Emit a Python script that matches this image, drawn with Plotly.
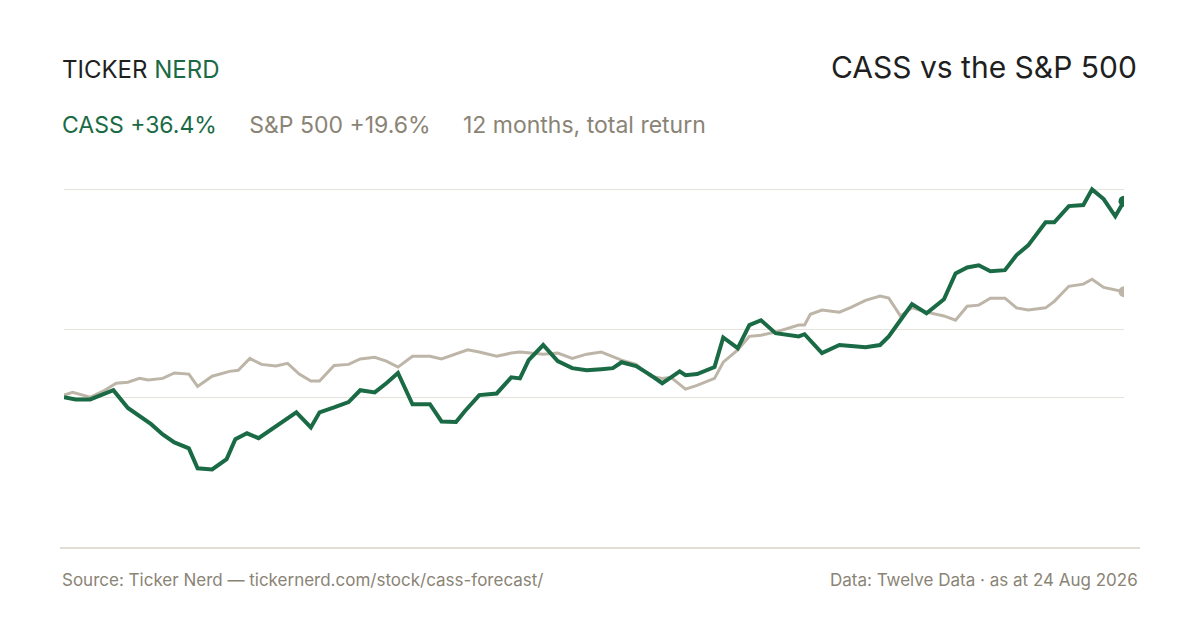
import plotly.graph_objects as go

# days since start, % total return
cass_days = [0, 4, 9, 12, 17, 22, 26, 30, 34, 38, 43, 46, 51, 56, 59, 63, 67, 71, 75, 80,
             85, 88, 93, 98, 102, 107, 111, 115, 120, 126, 130, 135, 138, 143, 149, 154, 157, 160, 165, 170,
             175, 180, 185, 189, 192, 197, 202, 206, 209, 212, 214, 218, 224, 227, 232, 236, 240, 245, 253, 255,
             261, 267, 271, 276, 281, 284, 288, 292, 297, 303, 307, 311, 315, 319, 324, 328, 332, 338, 341, 346,
             351, 354, 358, 362, 365]
cass_ret = [0, -0.4, -0.4, 0.2, 1.3, -2.0, -3.5, -5.0, -6.9, -8.4, -9.5, -13.2, -13.4, -11.5, -7.8, -6.7, -7.6, -6.1, -4.6, -2.8,
            -5.6, -2.8, -1.9, -0.9, 1.3, 0.9, 2.6, 4.5, -1.3, -1.3, -4.5, -4.6, -2.6, 0.4, 0.7, 3.7, 3.5, 6.9, 9.7, 6.7,
            5.4, 5.0, 5.2, 5.4, 6.5, 5.8, 4.1, 2.6, 3.7, 4.8, 4.1, 4.3, 5.6, 11.1, 9.1, 13.4, 14.3, 11.9, 11.3, 11.7,
            8.2, 9.7, 9.5, 9.3, 9.7, 11.3, 14.3, 17.3, 15.6, 18.2, 23.0, 24.1, 24.5, 23.4, 23.6, 26.4, 28.2, 32.5, 32.5, 35.5,
            35.7, 38.6, 36.8, 33.6, 36.4]

spx_days = [0, 3, 9, 14, 18, 22, 26, 29, 34, 38, 43, 46, 51, 57, 60, 64, 68, 73, 77, 81,
            85, 88, 93, 98, 102, 107, 111, 115, 120, 126, 130, 135, 139, 143, 149, 154, 157, 165, 170, 175,
            180, 185, 189, 192, 197, 202, 206, 209, 214, 218, 224, 227, 232, 236, 240, 245, 253, 255, 257, 261,
            267, 271, 276, 281, 284, 288, 292, 297, 303, 307, 311, 315, 319, 324, 328, 332, 338, 341, 346, 351,
            354, 358, 365]
spx_ret = [0.4, 0.9, 0, 1.3, 2.6, 2.8, 3.5, 3.2, 3.5, 4.5, 4.3, 2.0, 3.9, 4.8, 5.0, 7.2, 6.1, 5.8, 6.3, 4.3,
           3.0, 3.0, 5.9, 6.1, 7.1, 7.4, 6.7, 5.6, 7.6, 7.6, 7.1, 8.0, 8.8, 8.4, 7.6, 8.2, 8.4, 8.0, 8.2, 7.2,
           8.0, 8.4, 7.6, 6.9, 6.1, 3.9, 3.5, 3.7, 1.5, 2.2, 3.5, 6.5, 8.8, 11.3, 11.5, 12.1, 13.4, 13.4, 15.4, 16.2,
           15.8, 16.7, 18.0, 18.8, 18.4, 15.1, 16.6, 15.8, 15.1, 14.3, 16.9, 17.1, 18.4, 18.4, 16.6, 16.2, 16.6, 17.8, 20.6, 21.0,
           21.9, 20.4, 19.6]

grid_vals = [0, 12.6, 38.6]

GREEN = "#1a6b45"
GREY_LINE = "#bdb5a8"
GREY_TEXT = "#8a8476"

# plot area in figure pixels (page has an 8px body margin)
PL, PR, PT, PB = 56, 1116, 162, 540

fig = go.Figure()
fig.add_trace(go.Scatter(x=spx_days, y=spx_ret, mode="lines", line=dict(color=GREY_LINE, width=3), hoverinfo="skip"))
fig.add_trace(go.Scatter(x=cass_days, y=cass_ret, mode="lines", line=dict(color=GREEN, width=4), hoverinfo="skip"))
fig.add_trace(go.Scatter(x=[spx_days[-1]], y=[spx_ret[-1]], mode="markers", marker=dict(color=GREY_LINE, size=11)))
fig.add_trace(go.Scatter(x=[cass_days[-1]], y=[cass_ret[-1]], mode="markers", marker=dict(color=GREEN, size=11)))

fig.update_xaxes(range=[0, 365], visible=False)
fig.update_yaxes(range=[-28, 42.2], tickvals=grid_vals, showticklabels=False, gridcolor="#e6e3dd",
                 gridwidth=1, zeroline=False)


def px(x):
    return (x - 8 - PL) / (PR - PL)


def py(y):
    return (PB - (y - 8)) / (PB - PT)


fig.add_shape(type="line", xref="paper", yref="paper", x0=px(60), x1=px(1140), y0=0, y1=0,
              line=dict(color="#d8d3c8", width=1.5))

ann = [
    dict(x=60, y=70, text="TICKER <span style='color:%s'>NERD</span>" % GREEN, size=24, color="#1f1f1f", xa="left"),
    dict(x=1139, y=67, text="CASS vs the S&P 500", size=30, color="#1f1f1f", xa="right"),
    dict(x=60, y=125, text="<span style='color:%s'>CASS +36.4%%</span>     S&P 500 +19.6%%     12 months, total return" % GREEN,
         size=23, color=GREY_TEXT, xa="left"),
    dict(x=60, y=580, text="Source: Ticker Nerd — tickernerd.com/stock/cass-forecast/", size=17, color=GREY_TEXT, xa="left"),
    dict(x=1140, y=580, text="Data: Twelve Data · as at 24 Aug 2026", size=17, color=GREY_TEXT, xa="right"),
]
for a in ann:
    fig.add_annotation(x=px(a["x"]), y=py(a["y"]), xref="paper", yref="paper", text=a["text"],
                       showarrow=False, xanchor=a["xa"], yanchor="middle",
                       font=dict(size=a["size"], color=a["color"], family="Inter"))

fig.update_layout(
    width=1200, height=630,
    margin=dict(l=PL, r=1200 - PR, t=PT, b=630 - PB),
    paper_bgcolor="white", plot_bgcolor="white",
    showlegend=False,
    font=dict(family="Inter"),
)

fig.write_html("out.html")
